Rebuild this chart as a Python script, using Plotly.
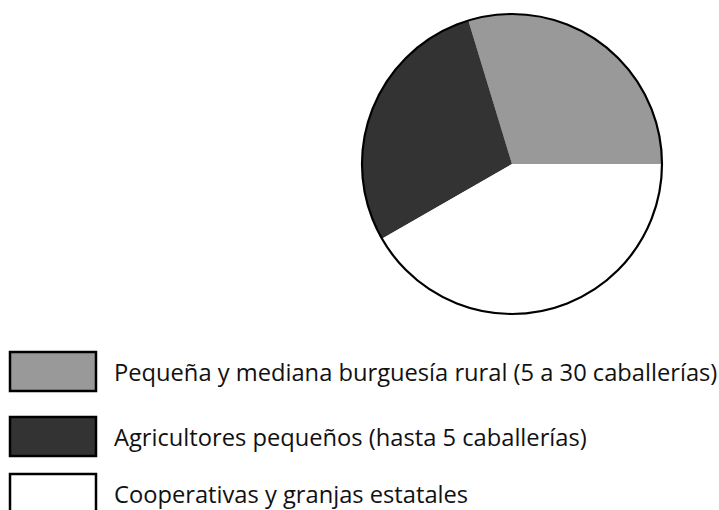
import plotly.graph_objects as go

# Tenencia de la tierra (% de la superficie)
categorias = [
    "Pequeña y mediana burguesía rural (5 a 30 caballerías)",
    "Agricultores pequeños (hasta 5 caballerías)",
    "Cooperativas y granjas estatales",
]
porcentajes = [29.7, 28.6, 41.7]
colores = ["#999999", "#333333", "#ffffff"]

W, H = 719, 510

# pie domain in pixels (left, right, top, bottom)
px_l, px_r, px_t, px_b = 362, 662, 14, 314
dom_x = [px_l / W, px_r / W]
dom_y = [1 - px_b / H, 1 - px_t / H]

# counterclockwise pie whose first slice begins at 3 o'clock:
# plotly places the END of the first slice at `rotation` for ccw pies
first_share = porcentajes[0] / sum(porcentajes)
rot = 90 - 360 * first_share

fig = go.Figure()

fig.add_trace(go.Pie(
    labels=categorias,
    values=porcentajes,
    marker=dict(colors=colores, line=dict(width=0)),
    sort=False,
    direction="counterclockwise",
    rotation=rot,
    textinfo="none",
    domain=dict(x=dom_x, y=dom_y),
    showlegend=False,
))

# outer rim of the pie, drawn as a single full slice with no fill
fig.add_trace(go.Pie(
    labels=["total"],
    values=[sum(porcentajes)],
    marker=dict(colors=["rgba(0,0,0,0)"], line=dict(color="black", width=2.2)),
    textinfo="none",
    hoverinfo="skip",
    domain=dict(x=dom_x, y=dom_y),
    showlegend=False,
))

# legend: swatches and labels
sw_x0, sw_x1 = 10, 96
sw_tops = [352, 417, 474]
sw_h = 39
for cat, col, top in zip(categorias, colores, sw_tops):
    fig.add_shape(
        type="rect", xref="paper", yref="paper",
        x0=sw_x0 / W, x1=sw_x1 / W,
        y0=1 - (top + sw_h) / H, y1=1 - top / H,
        fillcolor=col, line=dict(color="black", width=2.5),
    )
    fig.add_annotation(
        x=112 / W, y=1 - (top + sw_h / 2) / H,
        xref="paper", yref="paper",
        text=cat, showarrow=False,
        xanchor="left", yanchor="middle",
        font=dict(family="Open Sans", size=23.7, color="#111111"),
    )

fig.update_layout(
    width=W, height=H,
    margin=dict(l=0, r=0, t=0, b=0),
    paper_bgcolor="white",
    plot_bgcolor="white",
)

fig.write_html("out.html")
